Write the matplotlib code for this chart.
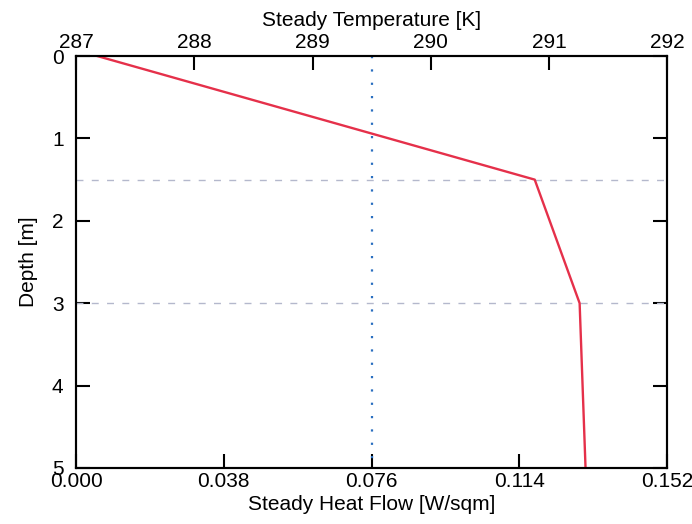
import numpy as np
import matplotlib
matplotlib.use("Agg")
import matplotlib.pyplot as plt

plt.rcParams['font.family'] = ['Liberation Sans', 'DejaVu Sans']

# steady temperature profile (K) vs depth (m)
depth = [0.0, 1.5, 3.0, 5.0]
temperature = [287.18, 290.88, 291.26, 291.31]

# steady heat flow (W/sqm), constant with depth
heat_flow = [0.076, 0.076]
heat_depth = [0.0, 5.0]

# layer boundaries (m)
layer_bounds = [1.5, 3.0]

FS = 15

fig = plt.figure(figsize=(6.92, 5.24), dpi=100)
ax = fig.add_axes([0.110, 0.107, 0.854, 0.786])

ax.plot(heat_flow, heat_depth, linestyle=(0, (1, 5)), color='#2a6fc0', linewidth=1.6)
for d in layer_bounds:
    ax.axhline(d, color='#b4b8cc', linestyle=(0, (5, 6)), linewidth=1.0)

ax.set_xlim(0, 0.152)
ax.set_ylim(5, 0)
ax.set_xticks([0.0, 0.038, 0.076, 0.114, 0.152])
ax.set_xticklabels(['0.000', '0.038', '0.076', '0.114', '0.152'])
ax.set_yticks([0, 1, 2, 3, 4, 5])
ax.set_xlabel('Steady Heat Flow [W/sqm]', fontsize=FS, labelpad=3)
ax.set_ylabel('Depth [m]', fontsize=FS, labelpad=10)
ax.tick_params(direction='in', length=10, width=1.5, labelsize=FS,
               right=True, top=False, pad=3)
ax.tick_params(axis='y', pad=9)

ax2 = ax.twiny()
ax2.plot(temperature, depth, '-', color='#e5304a', linewidth=1.7)
ax2.set_xlim(287, 292)
ax2.set_xticks([287, 288, 289, 290, 291, 292])
ax2.set_xlabel('Steady Temperature [K]', fontsize=FS, labelpad=5)
ax2.tick_params(direction='in', length=10, width=1.5, labelsize=FS, pad=3)

for a in (ax, ax2):
    for s in a.spines.values():
        s.set_linewidth(1.5)

fig.savefig('out.png', dpi=100)
